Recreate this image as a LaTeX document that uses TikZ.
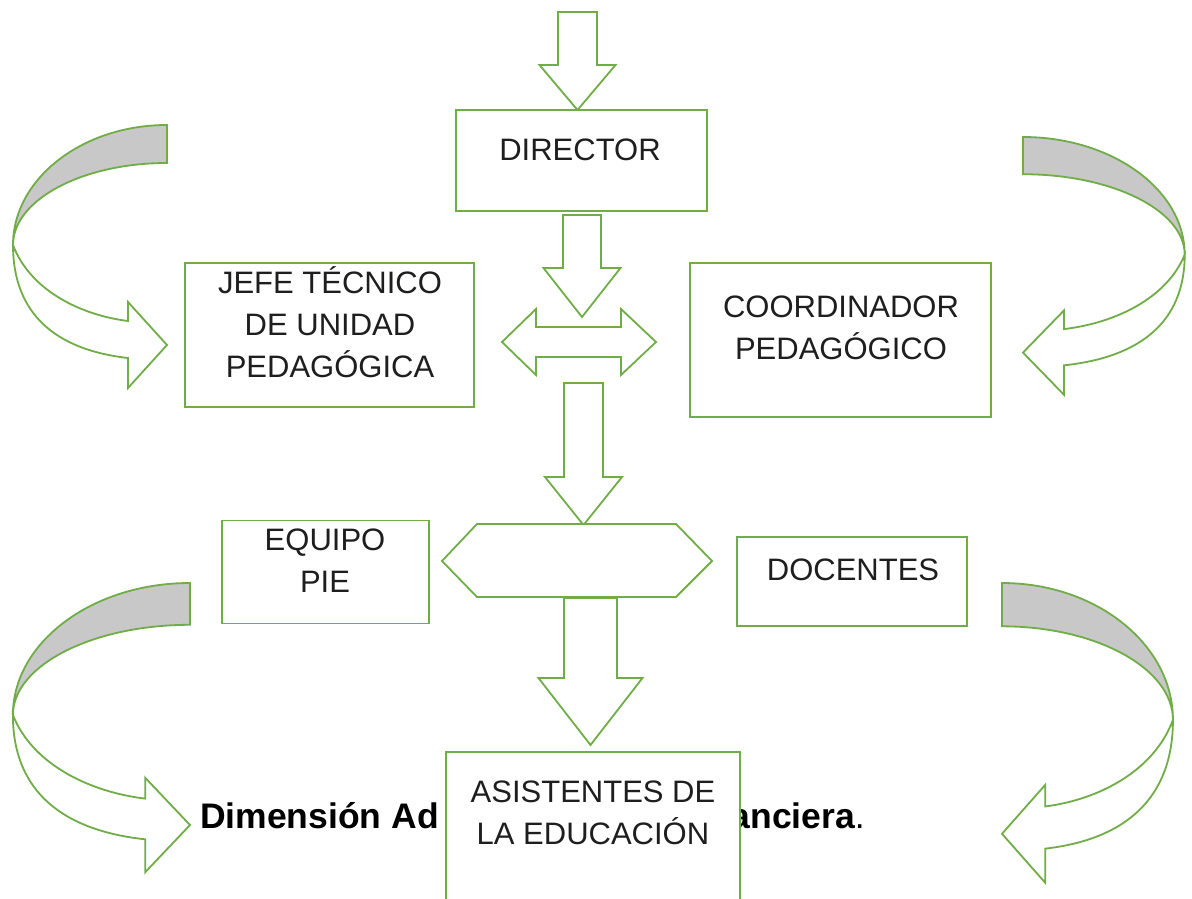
\documentclass[tikz,border=0pt]{standalone}
\usepackage{fontspec}
\setmainfont{Liberation Sans}
\definecolor{grn}{HTML}{70AD47}
\definecolor{bandgray}{HTML}{C8C8C8}
\definecolor{txtc}{HTML}{1E1E1E}
\tikzset{
  orgbox/.style={draw=grn, line width=1.8pt, fill=white, inner sep=0pt},
  boxtxt/.style={align=center, text=txtc, font=\fontsize{31}{42}\selectfont, inner sep=0pt},
  blk/.style={draw=grn, line width=1.8pt, fill=white, line join=miter},
  backband/.style={draw=grn, line width=1.8pt, fill=bandgray},
  titletxt/.style={inner sep=0pt, text=black, font=\fontsize{35.5}{40}\selectfont\bfseries},
}
% vertical block arrow: x centre, y top, y head base, y tip, shaft half width, head half width
\newcommand\blockdown[6]{\draw[blk] ({#1-#5},#2) -- ({#1+#5},#2) -- ({#1+#5},#3) -- ({#1+#6},#3) -- (#1,#4) -- ({#1-#6},#3) -- ({#1-#5},#3) -- cycle;}
% curved block arrow in local coordinates (u away from flat end, v downwards)
\newcommand\curvedarr{%
  \draw[backband] (0,0) .. controls (85,0) and (154,54) .. (154,120)
     .. controls (154,75) and (85,38) .. (0,38) -- cycle;
  \draw[blk] (154,120) .. controls (154,190) and (110,225) .. (39,233)
     -- (39,263) -- (0,220) -- (39,177) -- (39,196)
     .. controls (87,190) and (137,165) .. (154,120) -- cycle;
}
\begin{document}
\begin{tikzpicture}[x=1pt,y=-1pt]
\useasboundingbox (0,0) rectangle (1192,899);
\clip (0,0) rectangle (1192,899);
\fill[white] (0,0) rectangle (1192,899);

% curved arrows
\begin{scope}[shift={(167,125)}, xscale=-1]\curvedarr\end{scope}
\begin{scope}[shift={(1023,137)}, xscale=1.05, yscale=0.98]\curvedarr\end{scope}
\begin{scope}[shift={(190,583)}, xscale=-1.15, yscale=1.1]\curvedarr\end{scope}
\begin{scope}[shift={(1002,583)}, xscale=1.11, yscale=1.14]\curvedarr\end{scope}

% block arrows
\blockdown{577.5}{12}{65}{110}{19.5}{38}
\blockdown{582}{215}{268}{317}{19}{38.5}
\blockdown{583.5}{383}{477}{525}{19.5}{38.5}
\blockdown{590.5}{598}{678}{745}{26.5}{52}

% double horizontal arrow
\draw[blk] (502,342) -- (536,309) -- (536,327) -- (621,327) -- (621,309) -- (656,342)
  -- (621,375) -- (621,357) -- (536,357) -- (536,375) -- cycle;

% hexagon
\draw[blk] (442,561) -- (477,524) -- (676,524) -- (712,561) -- (676,597) -- (477,597) -- cycle;

% boxes
\node[orgbox, minimum width=251pt, minimum height=101pt] (director) at (581.5,160.5) {};
\node[boxtxt] (directort) at (580,150) {DIRECTOR};

\node[orgbox, minimum width=289pt, minimum height=144pt] (jefe) at (329.5,335) {};
\node[boxtxt] (jefet) at (330,322) {JEFE TÉCNICO\\DE UNIDAD\\PEDAGÓGICA};

\node[orgbox, minimum width=301pt, minimum height=154pt] (coord) at (840.5,340) {};
\node[boxtxt] (coordt) at (841,328) {COORDINADOR\\PEDAGÓGICO};

\node[orgbox, minimum width=207pt, minimum height=103pt] (equipo) at (325.5,572) {};
\node[boxtxt] (equipot) at (325,561) {EQUIPO\\PIE};

\node[orgbox, minimum width=230pt, minimum height=89pt] (docentes) at (852,581.5) {};
\node[boxtxt] (docentest) at (853,570) {DOCENTES};

% title text: the visible parts on either side of the last box
\node[titletxt, anchor=base west] (dimleft) at (200,828) {Dimensión Ad};
\node[titletxt, anchor=base east] (dimright) at (865,828) {anciera\textmd{.}};

\node[orgbox, minimum width=294pt, minimum height=160pt] (asist) at (593,832) {};
\node[boxtxt] (asistt) at (593,813) {ASISTENTES DE\\LA EDUCACIÓN};
\end{tikzpicture}
\end{document}
